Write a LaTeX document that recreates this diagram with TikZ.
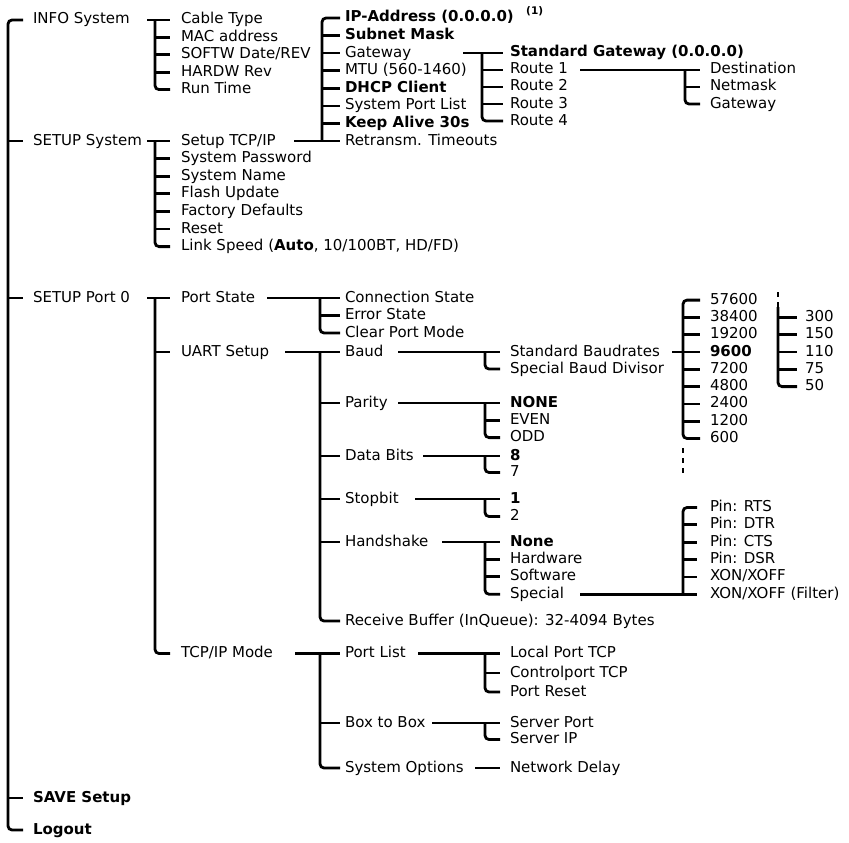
\documentclass[tikz,border=0pt]{standalone}
\usepackage{fontspec}
\setmainfont{DejaVu Sans}
\tikzset{
  tree/.style={line width=2.8pt, rounded corners=4pt},
  dotline/.style={line width=2.8pt, dash pattern=on 5pt off 5pt},
  lbl/.style={anchor=west, inner sep=0pt, outer sep=0pt, text height=11pt, text depth=3pt, font=\fontsize{15}{17}\selectfont},
  blbl/.style={lbl, font=\fontsize{15}{17}\selectfont\bfseries},
}
% T-shaped branch: bar starts at first child (joined by parent line), rounded at last
\newcommand\branchT[5]{%
  \draw[tree] (#3.west -| #1) |- ([xshift=-#2]#4.west);
  \foreach \m in {#5} {\draw[tree] (\m.west -| #1) -- ([xshift=-#2]\m.west);}
}
\newcommand\branchTT[4]{%
  \draw[tree] (#3.west -| #1) |- ([xshift=-#2]#4.west);
}
\begin{document}
\begin{tikzpicture}[x=1pt,y=-1pt]
\useasboundingbox (0,0) rectangle (849,843);

% ---------- level 0 ----------
\node[lbl]  (info)     at (33,20)  {INFO System};
\node[lbl]  (setupsys) at (33,141) {SETUP System};
\node[lbl]  (port0)    at (33,298) {SETUP Port 0};
\node[blbl] (save)     at (33,798) {SAVE Setup};
\node[blbl] (logout)   at (33,830) {Logout};
\coordinate (b0) at (8,0);
\draw[tree] ([xshift=-10pt]info.west) -| (logout.west -| b0) -- ([xshift=-10pt]logout.west);
\foreach \m in {setupsys,port0,save} {\draw[tree] (\m.west -| b0) -- ([xshift=-10pt]\m.west);}

% ---------- INFO System ----------
\node[lbl] (cable)   at (181,20)   {Cable Type};
\node[lbl] (mac)     at (181,37.4) {MAC address};
\node[lbl] (softw)   at (181,54.8) {SOFTW Date/REV};
\node[lbl] (hardw)   at (181,72.2) {HARDW Rev};
\node[lbl] (runtime) at (181,89.6) {Run Time};
\coordinate (b1) at (155,0);
\coordinate (o-info) at (147,20);
\draw[tree] (o-info) -- ([xshift=-11pt]cable.west);
\branchT{b1}{11pt}{cable}{runtime}{mac,softw,hardw}

% ---------- SETUP System ----------
\node[lbl] (tcpip)   at (181,141)   {Setup TCP/IP};
\node[lbl] (pwd)     at (181,158.6) {System Password};
\node[lbl] (sname)   at (181,176.2) {System Name};
\node[lbl] (flash)   at (181,193.8) {Flash Update};
\node[lbl] (factory) at (181,211.4) {Factory Defaults};
\node[lbl] (reset)   at (181,229)   {Reset};
\node[lbl] (link)    at (181,246.6) {Link Speed (\textbf{Auto}, 10/100BT, HD/FD)};
\coordinate (o-setupsys) at (147,141);
\draw[tree] (o-setupsys) -- ([xshift=-11pt]tcpip.west);
\branchT{b1}{11pt}{tcpip}{link}{pwd,sname,flash,factory,reset}

% ---------- Setup TCP/IP ----------
\node[blbl] (ip)     at (345,18)    {IP-Address (0.0.0.0)};
\node[anchor=west, inner sep=0pt, font=\fontsize{10.5}{11}\selectfont\bfseries] (fn) at (526,11) {(1)};
\node[blbl] (subnet) at (345,35.6)  {Subnet Mask};
\node[lbl]  (gw)     at (345,53.1)  {Gateway};
\node[lbl]  (mtu)    at (345,70.7)  {MTU (560-1460)};
\node[blbl] (dhcp)   at (345,88.3)  {DHCP Client};
\node[lbl]  (spl)    at (345,105.9) {System Port List};
\node[blbl] (keep)   at (345,123.4) {Keep Alive 30s};
\node[lbl]  (retr)   at (345,141)   {Retransm. Timeouts};
\coordinate (b2) at (322,0);
\coordinate (o-tcpip) at (294,141);
\draw[tree] ([xshift=-5pt]ip.west) -| (retr.west -| b2);
\draw[tree] (o-tcpip) -- ([xshift=-5pt]retr.west);
\foreach \m in {subnet,gw,mtu,dhcp,spl,keep} {\draw[tree] (\m.west -| b2) -- ([xshift=-5pt]\m.west);}

% ---------- Gateway ----------
\node[blbl] (stdgw)  at (510,53)  {Standard Gateway (0.0.0.0)};
\node[lbl]  (route1) at (510,70)  {Route 1};
\node[lbl]  (route2) at (510,87)  {Route 2};
\node[lbl]  (route3) at (510,104) {Route 3};
\node[lbl]  (route4) at (510,121) {Route 4};
\coordinate (b3) at (482,0);
\coordinate (o-gw) at (463,53);
\draw[tree] (o-gw) -- ([xshift=-7pt]stdgw.west);
\branchT{b3}{7pt}{stdgw}{route4}{route1,route2,route3}

% ---------- Route 1 ----------
\node[lbl] (dest)    at (710,70)  {Destination};
\node[lbl] (netmask) at (710,87)  {Netmask};
\node[lbl] (gw2)     at (710,104) {Gateway};
\coordinate (b4) at (685,0);
\coordinate (o-route1) at (580,70);
\draw[tree] (o-route1) -- ([xshift=-10pt]dest.west);
\branchT{b4}{10pt}{dest}{gw2}{netmask}

% ---------- SETUP Port 0 ----------
\node[lbl] (portstate) at (181,298)   {Port State};
\node[lbl] (uart)      at (181,352)   {UART Setup};
\node[lbl] (tcpmode)   at (181,653.5) {TCP/IP Mode};
\coordinate (o-port0) at (147,298);
\draw[tree] (o-port0) -- ([xshift=-11pt]portstate.west);
\branchT{b1}{11pt}{portstate}{tcpmode}{uart}

% ---------- Port State ----------
\node[lbl] (conn)  at (345,298)   {Connection State};
\node[lbl] (err)   at (345,315.5) {Error State};
\node[lbl] (clear) at (345,333)   {Clear Port Mode};
\coordinate (b5) at (320,0);
\coordinate (o-portstate) at (267,298);
\draw[tree] (o-portstate) -- ([xshift=-5pt]conn.west);
\branchT{b5}{5pt}{conn}{clear}{err}

% ---------- UART Setup ----------
\node[lbl] (baud)      at (345,352) {Baud};
\node[lbl] (parity)    at (345,403) {Parity};
\node[lbl] (databits)  at (345,456) {Data Bits};
\node[lbl] (stopbit)   at (345,499) {Stopbit};
\node[lbl] (handshake) at (345,542) {Handshake};
\node[lbl] (rbuf)      at (345,621) {Receive Buffer (InQueue): 32-4094 Bytes};
\coordinate (o-uart) at (285,352);
\draw[tree] (o-uart) -- ([xshift=-5pt]baud.west);
\branchT{b5}{5pt}{baud}{rbuf}{parity,databits,stopbit,handshake}

% ---------- Baud ----------
\node[lbl] (stdbaud)  at (510,352) {Standard Baudrates};
\node[lbl] (specbaud) at (510,369) {Special Baud Divisor};
\coordinate (b6) at (485,0);
\coordinate (o-baud) at (398,352);
\draw[tree] (o-baud) -- ([xshift=-10pt]stdbaud.west);
\branchTT{b6}{10pt}{stdbaud}{specbaud}

% ---------- Standard baud rates ----------
\node[lbl]  (r57600) at (710,300.1) {57600};
\node[lbl]  (r38400) at (710,317.4) {38400};
\node[lbl]  (r19200) at (710,334.7) {19200};
\node[blbl] (r9600)  at (710,352)   {9600};
\node[lbl]  (r7200)  at (710,369.3) {7200};
\node[lbl]  (r4800)  at (710,386.6) {4800};
\node[lbl]  (r2400)  at (710,403.9) {2400};
\node[lbl]  (r1200)  at (710,421.2) {1200};
\node[lbl]  (r600)   at (710,438.5) {600};
\coordinate (b7) at (683,0);
\coordinate (o-stdbaud) at (672,352);
\draw[tree] ([xshift=-10pt]r57600.west) -| (r600.west -| b7) -- ([xshift=-10pt]r600.west);
\draw[tree] (o-stdbaud) -- ([xshift=-10pt]r9600.west);
\foreach \m in {r38400,r19200,r7200,r4800,r2400,r1200} {\draw[tree] (\m.west -| b7) -- ([xshift=-10pt]\m.west);}
\coordinate (d1a) at (683,448);
\coordinate (d1b) at (683,474);
\draw[dotline] (d1a) -- (d1b);

% ---------- low baud rates ----------
\node[lbl] (r300) at (805,317.4) {300};
\node[lbl] (r150) at (805,334.7) {150};
\node[lbl] (r110) at (805,352)   {110};
\node[lbl] (r75)  at (805,369.3) {75};
\node[lbl] (r50)  at (805,386.6) {50};
\coordinate (b8) at (778,0);
\coordinate (d2a) at (778,292);
\coordinate (d2b) at (778,307);
\draw[dotline] (d2a) -- (d2b);
\draw[tree] (d2b) |- ([xshift=-8pt]r50.west);
\foreach \m in {r300,r150,r110,r75} {\draw[tree] (\m.west -| b8) -- ([xshift=-8pt]\m.west);}

% ---------- Parity ----------
\node[blbl] (pnone) at (510,403)   {NONE};
\node[lbl]  (peven) at (510,420.3) {EVEN};
\node[lbl]  (podd)  at (510,437.6) {ODD};
\coordinate (o-parity) at (398,403);
\draw[tree] (o-parity) -- ([xshift=-10pt]pnone.west);
\branchT{b6}{10pt}{pnone}{podd}{peven}

% ---------- Data Bits ----------
\node[blbl] (d8) at (510,456)   {8};
\node[lbl]  (d7) at (510,472.5) {7};
\coordinate (o-databits) at (423,456);
\draw[tree] (o-databits) -- ([xshift=-10pt]d8.west);
\branchTT{b6}{10pt}{d8}{d7}

% ---------- Stopbit ----------
\node[blbl] (s1) at (510,499)   {1};
\node[lbl]  (s2) at (510,516.5) {2};
\coordinate (o-stopbit) at (415,499);
\draw[tree] (o-stopbit) -- ([xshift=-10pt]s1.west);
\branchTT{b6}{10pt}{s1}{s2}

% ---------- Handshake ----------
\node[blbl] (hnone) at (510,542)   {None};
\node[lbl]  (hhw)   at (510,559.4) {Hardware};
\node[lbl]  (hsw)   at (510,576.8) {Software};
\node[lbl]  (hspec) at (510,594.2) {Special};
\coordinate (o-handshake) at (442,542);
\draw[tree] (o-handshake) -- ([xshift=-10pt]hnone.west);
\branchT{b6}{10pt}{hnone}{hspec}{hhw,hsw}

% ---------- Special ----------
\node[lbl] (rts)  at (710,507.5) {Pin: RTS};
\node[lbl] (dtr)  at (710,524.8) {Pin: DTR};
\node[lbl] (cts)  at (710,542.2) {Pin: CTS};
\node[lbl] (dsr)  at (710,559.5) {Pin: DSR};
\node[lbl] (xon)  at (710,576.9) {XON/XOFF};
\node[lbl] (xonf) at (710,594.2) {XON/XOFF (Filter)};
\coordinate (o-spec) at (580,594.2);
\draw[tree] ([xshift=-13pt]rts.west) -| (xonf.west -| b7);
\draw[tree] (o-spec) -- ([xshift=-13pt]xonf.west);
\foreach \m in {dtr,cts,dsr,xon} {\draw[tree] (\m.west -| b7) -- ([xshift=-13pt]\m.west);}

% ---------- TCP/IP Mode ----------
\node[lbl] (portlist) at (345,653.5) {Port List};
\node[lbl] (boxbox)   at (345,723)   {Box to Box};
\node[lbl] (sysopt)   at (345,768)   {System Options};
\coordinate (o-tcpmode) at (295,653.5);
\draw[tree] (o-tcpmode) -- ([xshift=-5pt]portlist.west);
\branchT{b5}{5pt}{portlist}{sysopt}{boxbox}

% ---------- Port List ----------
\node[lbl] (localp) at (510,653.5) {Local Port TCP};
\node[lbl] (ctrlp)  at (510,673)   {Controlport TCP};
\node[lbl] (preset) at (510,692)   {Port Reset};
\coordinate (o-portlist) at (418,653.5);
\draw[tree] (o-portlist) -- ([xshift=-10pt]localp.west);
\branchT{b6}{10pt}{localp}{preset}{ctrlp}

% ---------- Box to Box ----------
\node[lbl] (sport) at (510,723)   {Server Port};
\node[lbl] (sip)   at (510,739.5) {Server IP};
\coordinate (o-boxbox) at (432,723);
\draw[tree] (o-boxbox) -- ([xshift=-10pt]sport.west);
\branchTT{b6}{10pt}{sport}{sip}

% ---------- System Options ----------
\node[lbl] (netdelay) at (510,768) {Network Delay};
\coordinate (o-sysopt) at (475,768);
\draw[tree] (o-sysopt) -- ([xshift=-10pt]netdelay.west);
\end{tikzpicture}
\end{document}
